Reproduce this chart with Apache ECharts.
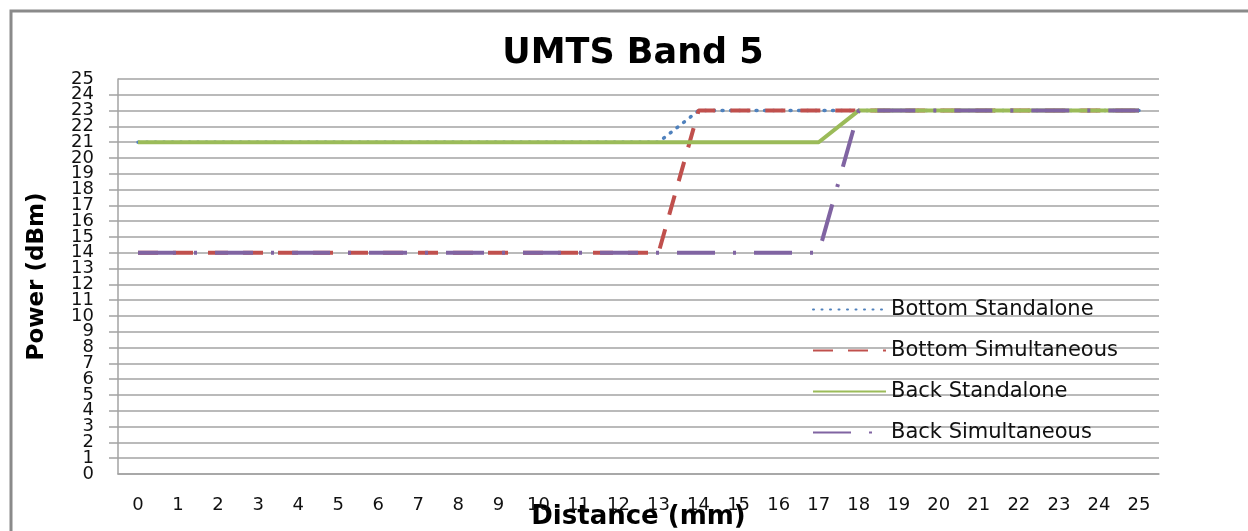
<!DOCTYPE html>
<html>
<head>
<meta charset="utf-8">
<script src="https://cdn.jsdelivr.net/npm/echarts@6/dist/echarts.min.js"></script>
<style>
html,body{margin:0;padding:0;background:#fff;}
#chart{width:1248px;height:531px;}
</style>
</head>
<body>
<div id="chart"></div>
<script>
var categories = ['0','1','2','3','4','5','6','7','8','9','10','11','12','13','14','15','16','17','18','19','20','21','22','23','24','25'];
var bottomStandalone   = [21,21,21,21,21,21,21,21,21,21,21,21,21,21,23,23,23,23,23,23,23,23,23,23,23,23];
var bottomSimultaneous = [14,14,14,14,14,14,14,14,14,14,14,14,14,14,23,23,23,23,23,23,23,23,23,23,23,23];
var backStandalone     = [21,21,21,21,21,21,21,21,21,21,21,21,21,21,21,21,21,21,23,23,23,23,23,23,23,23];
var backSimultaneous   = [14,14,14,14,14,14,14,14,14,14,14,14,14,14,14,14,14,14,23,23,23,23,23,23,23,23];
var seriesNames = ['Bottom Standalone','Bottom Simultaneous','Back Standalone','Back Simultaneous'];
var yMin = 0, yMax = 25, yStep = 1;

var chart = echarts.init(document.getElementById('chart'), null, {renderer:'canvas'});
var F = 'DejaVu Sans';
var gridColor = '#a3a3a3';
var labelStyle = {fontFamily:F, fontSize:18, color:'#111', margin:24};
chart.setOption({
  animation:false,
  backgroundColor:'#fff',
  title:{
    text:'UMTS Band 5',
    left:628, top:31, textAlign:'center',
    textStyle:{fontFamily:F, fontWeight:'bold', fontSize:35, color:'#000'}
  },
  graphic:[{
    type:'rect', shape:{x:11, y:11, width:1400, height:700},
    style:{fill:'none', stroke:'#8a8a8a', lineWidth:3}, silent:true, z:100
  }],
  grid:{left:118, right:89, top:79, bottom:57, containLabel:false, outerBoundsMode:'none'},
  legend:{
    orient:'vertical', left:812, top:299, padding:0, itemWidth:73, itemHeight:14, itemGap:20,
    itemStyle:{opacity:0},
    textStyle:{fontFamily:F, fontSize:21, color:'#111'},
    data:seriesNames
  },
  xAxis:{
    type:'category', data:categories, boundaryGap:true,
    name:'Distance (mm)', nameLocation:'middle', nameGap:30, nameMoveOverlap:false,
    nameTextStyle:{fontFamily:F, fontWeight:'bold', fontSize:26, color:'#000'},
    axisLine:{show:true, lineStyle:{color:gridColor, width:1.5}},
    axisTick:{show:false},
    axisLabel:{fontFamily:F, fontSize:18, color:'#111', margin:22, interval:0},
    splitLine:{show:false}
  },
  yAxis:[{
    type:'value', min:yMin, max:yMax, interval:yStep,
    name:'Power (dBm)', nameLocation:'middle', nameGap:69, nameRotate:90, nameMoveOverlap:false,
    nameTextStyle:{fontFamily:F, fontWeight:'bold', fontSize:23, color:'#000'},
    axisLine:{show:true, lineStyle:{color:gridColor, width:1.5}},
    axisTick:{show:true, inside:false, length:9, lineStyle:{color:gridColor, width:1.5}},
    axisLabel:Object.assign({showMinLabel:false, showMaxLabel:false}, labelStyle),
    splitLine:{show:true, lineStyle:{color:gridColor, width:1.5}}
  },{
    type:'value', min:yMin, max:yMax, interval:yStep, position:'left', offset:0,
    axisLine:{show:false}, axisTick:{show:false}, splitLine:{show:false},
    axisLabel:Object.assign({showMinLabel:true, showMaxLabel:true,
      formatter:function(v){ return (v === yMin || v === yMax) ? String(v) : ''; }}, labelStyle)
  }],
  series:[
    {name:seriesNames[0], type:'line', data:bottomStandalone, symbol:'none', color:'#4F81BD',
     lineStyle:{color:'#4F81BD', width:3.5, type:[1,7.5], cap:'round'}},
    {name:seriesNames[1], type:'line', data:bottomSimultaneous, symbol:'none', color:'#C0504D',
     lineStyle:{color:'#C0504D', width:4, type:[20,15], cap:'butt'}},
    {name:seriesNames[2], type:'line', data:backStandalone, symbol:'none', color:'#9BBB59',
     lineStyle:{color:'#9BBB59', width:4, type:'solid'}},
    {name:seriesNames[3], type:'line', data:backSimultaneous, symbol:'none', color:'#8064A2',
     lineStyle:{color:'#8064A2', width:4, type:[38,18,3,18], cap:'butt'}}
  ]
});
</script>
</body>
</html>
